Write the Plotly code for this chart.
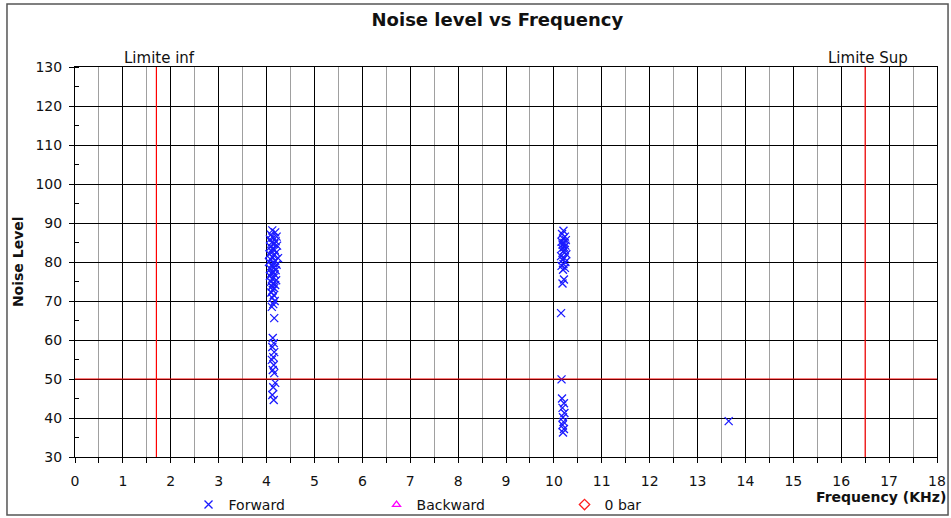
import plotly.graph_objects as go

# ---- data ----
fwd_freq_a = [4.12, 4.18, 4.09, 4.21, 4.14, 4.07, 4.19, 4.11, 4.16, 4.22, 4.08, 4.13,
              4.17, 4.10, 4.20, 4.06, 4.15, 4.12, 4.24, 4.09, 4.18, 4.05, 4.14, 4.21,
              4.11, 4.16, 4.08, 4.19, 4.13, 4.10, 4.17, 4.07, 4.15, 4.12, 4.20, 4.09,
              4.14, 4.18, 4.11, 4.16, 4.13, 4.10, 4.15, 4.12, 4.17, 4.14, 4.11,
              4.16, 4.13, 4.15, 4.12, 4.16, 4.14, 4.11, 4.15, 4.13, 4.16, 4.18, 4.14, 4.12, 4.15]
fwd_noise_a = [88.1, 87.6, 87.0, 86.5, 86.2, 85.8, 85.3, 85.0, 84.6, 84.2, 83.9, 83.5,
               83.1, 82.8, 82.4, 82.0, 81.7, 81.3, 81.0, 80.6, 80.3, 80.0, 79.7, 79.3,
               79.0, 78.6, 78.2, 77.9, 77.5, 77.1, 76.8, 76.4, 76.0, 75.7, 75.3, 74.9,
               74.5, 74.1, 73.7, 73.3, 72.8, 72.2, 71.5, 70.8, 70.0, 69.2, 68.5,
               65.6, 60.5, 59.2, 58.2, 56.9, 55.6, 54.9, 53.6, 52.3, 51.5, 49.0, 47.9, 45.9, 44.6]

fwd_freq_b = [10.20, 10.17, 10.23, 10.19, 10.25, 10.16, 10.22, 10.18, 10.24, 10.21, 10.17,
              10.23, 10.19, 10.26, 10.15, 10.22, 10.18, 10.24, 10.20, 10.16, 10.23, 10.19,
              10.21, 10.18, 10.15, 10.16, 10.17, 10.21, 10.18, 10.22, 10.19, 10.20, 10.18, 10.21, 10.19]
fwd_noise_b = [88.0, 87.2, 86.5, 86.0, 85.6, 85.2, 84.9, 84.5, 84.2, 83.8, 83.5,
               83.1, 82.7, 82.0, 81.5, 81.0, 80.5, 80.0, 79.5, 79.0, 78.5, 78.0,
               75.5, 74.5, 66.9, 49.9, 45.0, 43.8, 42.6, 41.3, 40.2, 39.0, 38.2, 37.2, 36.3]

fwd_freq_c = [13.65]
fwd_noise_c = [39.2]

forward_freq = fwd_freq_a + fwd_freq_b + fwd_freq_c
forward_noise = fwd_noise_a + fwd_noise_b + fwd_noise_c

limit_inf = 1.7
limit_sup = 16.5
noise_threshold = 50

x_ticks = list(range(0, 19))
y_ticks = list(range(30, 131, 10))

FONT = "DejaVu Sans, Verdana, sans-serif"

# ---- figure ----
fig = go.Figure()
fig.add_trace(go.Scatter(
    x=forward_freq, y=forward_noise, mode="markers", name="Forward",
    marker=dict(symbol="x-thin-open", size=8, line=dict(color="#1a1aff", width=1.3), color="#1a1aff"),
))
fig.add_trace(go.Scatter(
    x=[None], y=[None], mode="markers", name="Backward",
    marker=dict(symbol="triangle-up-open", size=7, color="#ff00ff", line=dict(width=1.3)),
))
fig.add_trace(go.Scatter(
    x=[None], y=[None], mode="markers", name="0 bar",
    marker=dict(symbol="diamond-open", size=8, color="#ff2020", line=dict(width=1.3)),
))

red = "#ff0000"
fig.add_shape(type="line", xref="x", yref="paper", x0=limit_inf, x1=limit_inf, y0=0, y1=1,
              line=dict(color=red, width=1.2))
fig.add_shape(type="line", xref="x", yref="paper", x0=limit_sup, x1=limit_sup, y0=0, y1=1,
              line=dict(color=red, width=1.2))
fig.add_shape(type="line", xref="paper", yref="y", x0=0, x1=1, y0=noise_threshold, y1=noise_threshold,
              line=dict(color=red, width=1.2))
# outer frame
fig.add_shape(type="rect", xref="paper", yref="paper", x0=-0.0789, x1=1.0128, y0=-0.1487, y1=1.1615,
              line=dict(color="#555555", width=1.5), layer="below")

fig.add_annotation(x=limit_inf, y=1, xref="x", yref="paper", text="Limite inf", showarrow=False,
                   xanchor="center", yanchor="bottom", xshift=3, yshift=-2,
                   font=dict(size=15, color="#111111"))
fig.add_annotation(x=limit_sup, y=1, xref="x", yref="paper", text="Limite Sup", showarrow=False,
                   xanchor="center", yanchor="bottom", xshift=3, yshift=-2,
                   font=dict(size=15, color="#111111"))
fig.add_annotation(x=-0.066, y=0.5, xref="paper", yref="paper", text="<b>Noise Level</b>", showarrow=False,
                   xanchor="center", yanchor="middle", textangle=-90, font=dict(size=14, color="#111111"))
fig.add_annotation(x=1.0128, y=-0.1025, xref="paper", yref="paper", text="<b>Frequency (KHz)</b>",
                   showarrow=False, xanchor="right", yanchor="middle", font=dict(size=14, color="#111111"))

grid_black = "#000000"
fig.update_layout(
    width=951, height=518,
    margin=dict(l=75, r=14, t=67, b=61, autoexpand=False),
    paper_bgcolor="white", plot_bgcolor="white",
    font=dict(family=FONT, size=14, color="#111111"),
    title=dict(text="<b>Noise level vs Frequency</b>", x=0.523, xanchor="center",
               y=1 - 20 / 518, yanchor="middle", yref="container",
               font=dict(size=18, color="#111111")),
    showlegend=True,
    legend=dict(orientation="h", x=0.1317, y=-0.123, xanchor="left", yanchor="middle",
                entrywidth=143, entrywidthmode="pixels", itemwidth=30,
                font=dict(size=14, color="#111111"), bgcolor="rgba(0,0,0,0)"),
    xaxis=dict(range=[0, 18], tickvals=x_ticks, ticktext=[str(v) for v in x_ticks],
               showgrid=True, gridcolor=grid_black, gridwidth=1,
               ticks="outside", ticklen=5, tickcolor="black", ticklabelstandoff=6,
               showline=True, linecolor="black", linewidth=1, mirror=True, zeroline=False,
               minor=dict(dtick=0.5, tick0=0, showgrid=True, gridcolor="#a0a0a0", gridwidth=1,
                          ticks="outside", ticklen=5, tickcolor="black"),
               tickfont=dict(size=14)),
    yaxis=dict(range=[30, 130], tickvals=y_ticks, ticktext=[str(v) for v in y_ticks],
               showgrid=True, gridcolor=grid_black, gridwidth=1,
               ticks="outside", ticklen=5, tickcolor="black", ticklabelstandoff=4,
               showline=True, linecolor="black", linewidth=1, mirror=True, zeroline=False,
               minor=dict(dtick=5, tick0=0, showgrid=False, ticks="inside", ticklen=4, tickcolor="black"),
               tickfont=dict(size=14)),
)

fig.write_html("out.html", config={"displayModeBar": False})

# remove default page margin so the figure sits at the window origin
with open("out.html", "r", encoding="utf-8") as f:
    html = f.read()
html = html.replace("<head>", "<head><style>html,body{margin:0;padding:0;}</style>", 1)
with open("out.html", "w", encoding="utf-8") as f:
    f.write(html)
